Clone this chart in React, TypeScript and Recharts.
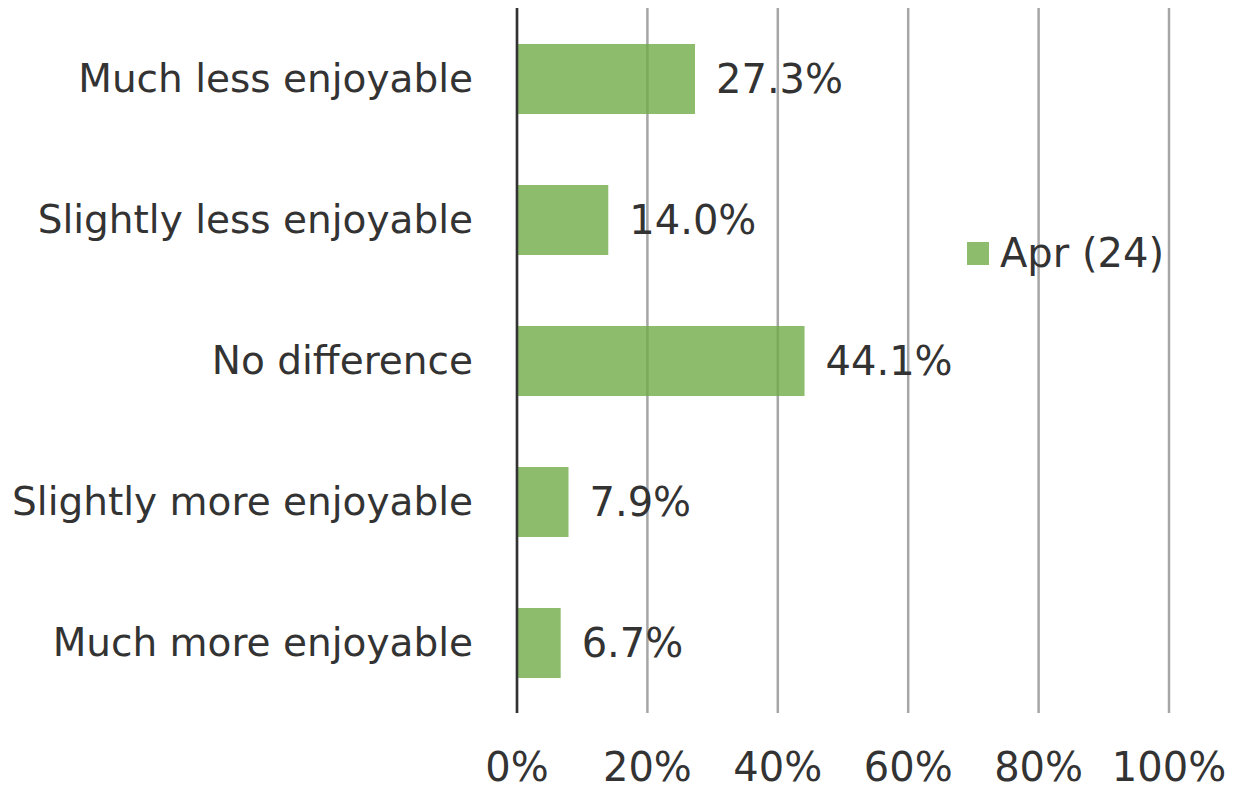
import { Bar, BarChart, CartesianGrid, LabelList, XAxis, YAxis } from "recharts";

const categories = [
  "Much less enjoyable",
  "Slightly less enjoyable",
  "No difference",
  "Slightly more enjoyable",
  "Much more enjoyable",
];
const aprValues = [27.3, 14.0, 44.1, 7.9, 6.7];
const xTicks = [0, 20, 40, 60, 80, 100];
const seriesName = "Apr (24)";

const data = categories.map((name, i) => ({ name, apr: aprValues[i] }));

const FONT = "'DejaVu Sans', Verdana, sans-serif";
const TEXT = "#333333";
const GREEN = "#70AD47";

// legend sits inside the plot, so keep it out of recharts' layout
function LegendBox() {
  return (
    <div
      style={{
        position: "absolute",
        left: 967,
        top: 230,
        display: "flex",
        alignItems: "center",
        fontFamily: FONT,
        fontSize: 40,
        color: TEXT,
      }}
    >
      <span style={{ width: 22, height: 23, background: GREEN, opacity: 0.8, marginRight: 11 }} />
      <span>{seriesName}</span>
    </div>
  );
}

export default function App() {
  return (
    <div style={{ position: "absolute", left: 0, top: 0, width: 1241, height: 794, background: "#fff" }}>
      <BarChart
        width={1241}
        height={794}
        data={data}
        layout="vertical"
        margin={{ top: 8, right: 72, left: 0, bottom: 0 }}
      >
        <CartesianGrid horizontal={false} stroke="#A6A6A6" strokeWidth={2.5} />
        <XAxis
          type="number"
          domain={[0, 100]}
          ticks={xTicks}
          tickFormatter={(v) => `${v}%`}
          axisLine={false}
          tickLine={false}
          tickSize={0}
          tickMargin={40}
          height={81}
          tick={{ fill: TEXT, fontSize: 40, fontFamily: FONT }}
          interval={0}
        />
        <YAxis
          type="category"
          dataKey="name"
          width={517}
          axisLine={{ stroke: "#333333", strokeWidth: 2.5 }}
          tickLine={false}
          tickSize={0}
          tickMargin={44}
          tick={{ fill: TEXT, fontSize: 39, fontFamily: FONT }}
          interval={0}
        />
        <Bar dataKey="apr" name={seriesName} fill={GREEN} fillOpacity={0.8} barSize={70} isAnimationActive={false}>
          <LabelList
            dataKey="apr"
            position="right"
            offset={21}
            formatter={(v: number) => `${v.toFixed(1)}%`}
            style={{ fill: TEXT, fontSize: 40, fontFamily: FONT }}
          />
        </Bar>
      </BarChart>
      <LegendBox />
    </div>
  );
}
